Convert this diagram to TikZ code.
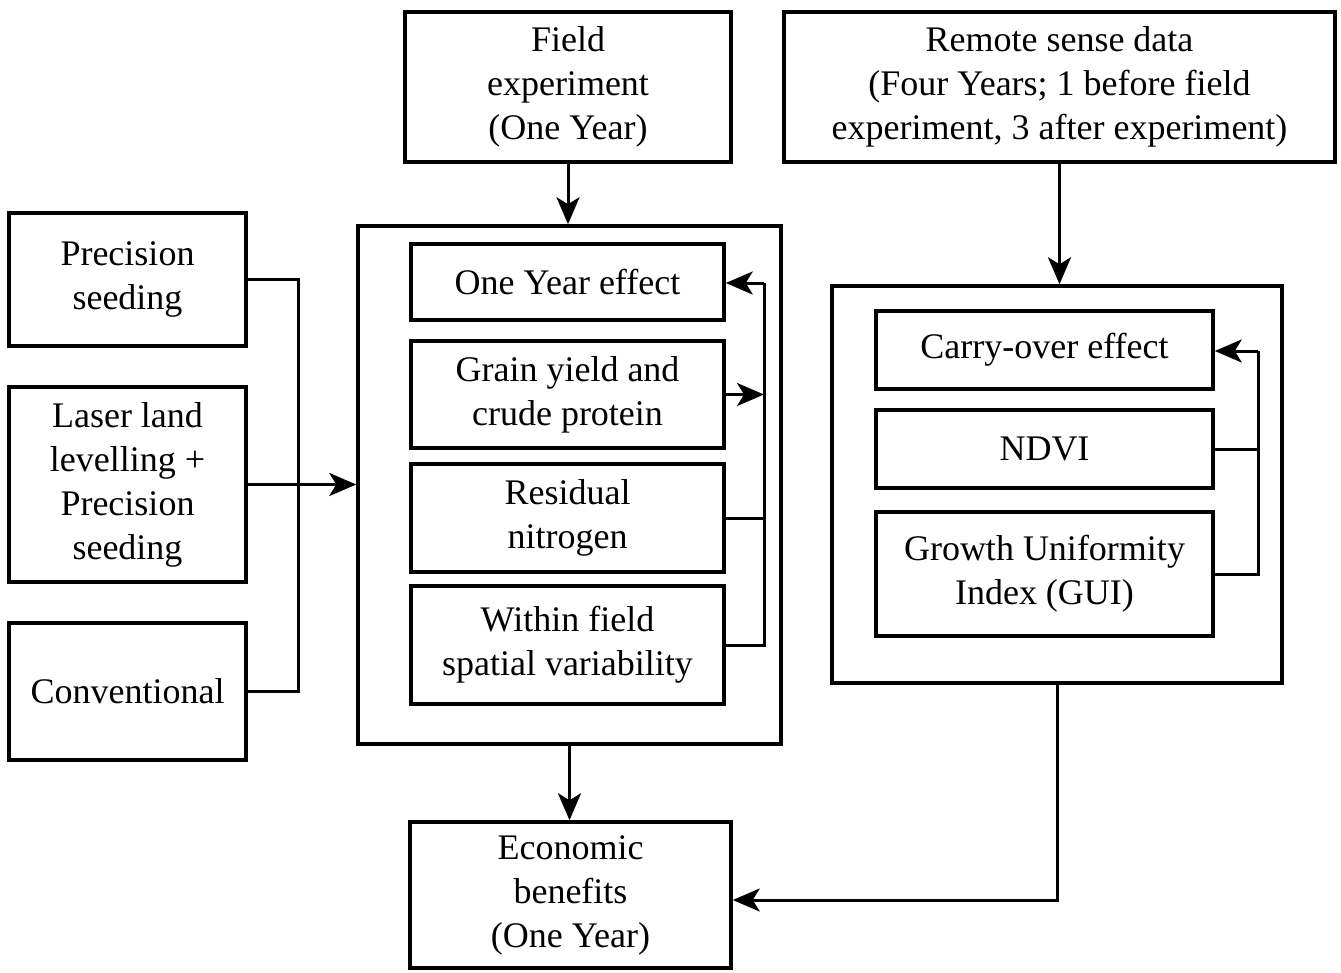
\documentclass[tikz,border=0pt]{standalone}
\usepackage{fontspec}
\setmainfont{Liberation Serif}
\usetikzlibrary{arrows.meta,calc}
\begin{document}
\begin{tikzpicture}[x=1pt,y=-1pt,
  box/.style={draw=black, line width=3.5pt, rectangle, inner sep=0pt, align=center,
    font=\fontsize{36}{44}\selectfont},
  conn/.style={line width=3pt, line join=miter},
  arr/.style={conn, -{Stealth[length=27pt,width=23pt,inset=7pt]}}]
\useasboundingbox (0,0) rectangle (1341,972);
% top boxes
\node[box, minimum width=326pt, minimum height=150pt] (fe) at (568,87) {Field\\experiment\\(One Year)};
\node[box, minimum width=551pt, minimum height=150pt] (rs) at (1059.5,87) {Remote sense data\\(Four Years; 1 before field\\experiment, 3 after experiment)};
% left boxes
\node[box, minimum width=237pt, minimum height=133pt] (ps) at (127.5,279.5) {Precision\\seeding};
\node[box, minimum width=237pt, minimum height=195pt] (ll) at (127.5,484.5) {Laser land\\levelling +\\Precision\\seeding};
\node[box, minimum width=237pt, minimum height=137pt] (cv) at (127.5,691.5) {Conventional};
% middle container
\node[box, minimum width=423pt, minimum height=518pt] (mid) at (569.5,485) {};
\node[box, minimum width=313pt, minimum height=76pt] (oy) at (567.5,282) {One Year effect};
\node[box, minimum width=313pt, minimum height=107pt] (gy) at (567.5,394.5) {Grain yield and\\crude protein};
\node[box, minimum width=313pt, minimum height=108pt] (rn) at (567.5,518) {Residual\\nitrogen};
\node[box, minimum width=313pt, minimum height=118pt] (wf) at (567.5,645) {Within field\\spatial variability};
% right container
\node[box, minimum width=450pt, minimum height=397pt] (rt) at (1057,484.5) {};
\node[box, minimum width=337pt, minimum height=78pt] (co) at (1044.5,350) {Carry-over effect};
\node[box, minimum width=337pt, minimum height=78pt] (nd) at (1044.5,449) {NDVI};
\node[box, minimum width=337pt, minimum height=124pt] (gu) at (1044.5,574) {Growth Uniformity\\Index (GUI)};
% bottom
\node[box, minimum width=321pt, minimum height=146pt] (eb) at (570.5,895) {Economic\\benefits\\(One Year)};
% left bus
\coordinate (lbt) at (298,279.5);
\coordinate (lbb) at (298,691.5);
\draw[conn] (ps.east) -- (lbt) -- (lbb) -- (cv.east);
\draw[arr] (ll.east) -- (ll.east -| mid.west);
% vertical arrows
\draw[arr] (fe.south) -- (fe.south |- mid.north);
\draw[arr] (rs.south) -- (rs.south |- rt.north);
\draw[arr] (mid.south) -- (mid.south |- eb.north);
\coordinate (rc) at (1057,900);
\draw[arr] (rt.south) -- (rc) -- (eb.east |- rc);
% middle inner bus
\coordinate (mb) at (764,283);
\draw[arr] (mb) -- (oy.east |- mb);
\draw[arr] (gy.east) -- (gy.east -| mb);
\draw[conn] (rn.east) -- (rn.east -| mb);
\draw[conn] (wf.east) -- (wf.east -| mb) -- (mb);
% right inner bus
\coordinate (rb) at (1258,351);
\draw[arr] (rb) -- (co.east |- rb);
\draw[conn] (nd.east) -- (nd.east -| rb);
\draw[conn] (gu.east) -- (gu.east -| rb) -- (rb);
\end{tikzpicture}
\end{document}
